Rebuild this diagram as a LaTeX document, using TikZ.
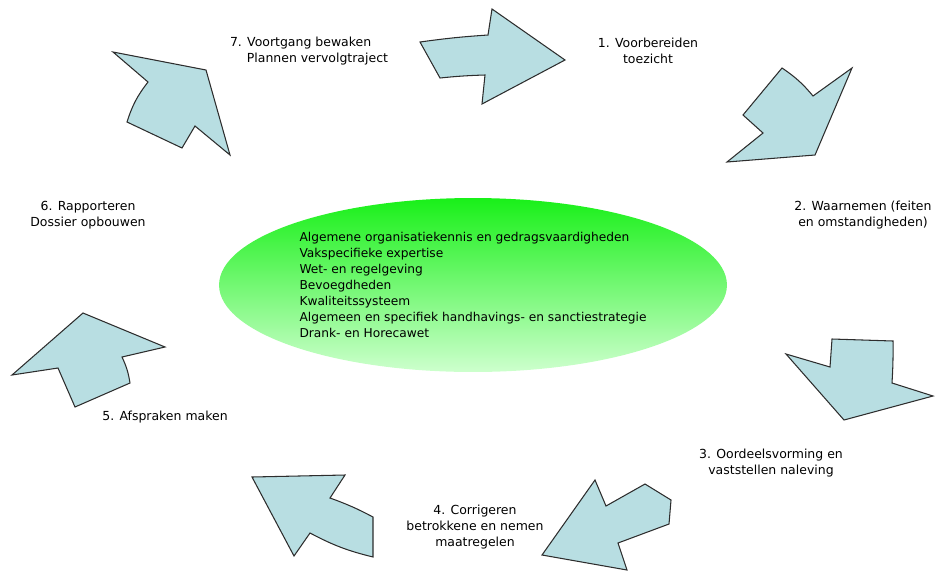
\documentclass[tikz,border=0pt]{standalone}
\usepackage{fontspec}
\setmainfont{DejaVu Sans}
\usetikzlibrary{shapes.geometric}
\definecolor{arrowfill}{RGB}{184,222,226}
\definecolor{arrowline}{RGB}{45,45,45}
\definecolor{ovaltop}{RGB}{25,240,25}
\definecolor{ovalbottom}{RGB}{205,255,205}
\tikzset{
	cyclearrow/.style = {fill = arrowfill, draw = arrowline, line width = 0.6pt},
	steplabel/.style = {align = center, inner sep = 0pt, font = \fontsize{7.1}{9.07}\selectfont},
}

\begin{document}
\begin{tikzpicture}[x = 0.02cm, y = -0.02cm]
		\useasboundingbox (0,0) rectangle (935,572);
		% The oval in the middle
		\node[ellipse, top color = ovaltop, bottom color = ovalbottom, minimum width = 10.16cm, minimum height = 3.48cm,
			inner sep = 0pt, align = left, font = \fontsize{6.95}{9.07}\selectfont] (kennis) at (473,285)
			{Algemene organisatiekennis en gedragsvaardigheden\\Vakspecifieke expertise\\Wet- en regelgeving\\Bevoegdheden\\Kwaliteitssysteem\\Algemeen en specifiek handhavings- en sanctiestrategie\\Drank- en Horecawet};
		% The arrows
		\draw[cyclearrow] (420,42) to[bend left = 2] (488,35) -- (492,9) -- (565,60) -- (482,104) -- (485,75) to[bend right = 2] (440,78) -- cycle;      % top
		\draw[cyclearrow] (813,96) -- (852,68) -- (815,155) -- (727,162) -- (763,133) -- (743,115) -- (782,68) to[bend left = 8] cycle;               % upper right
		\draw[cyclearrow] (786,354) -- (830,367) -- (832,339) -- (893,341) to[bend left = 2] (892,383) -- (933,396) -- (844,420) -- cycle;            % right
		\draw[cyclearrow] (542,555) -- (595,480) -- (606,506) -- (645,484) -- (671,500) -- (669,524) -- (618,543) -- (627,570) -- cycle;              % lower right
		\draw[cyclearrow] (252,477) -- (345,475) -- (330,498) to[bend left = 4] (373,517) -- (373,557) to[bend left = 7] (310,533) -- (294,556) -- cycle; % bottom left
		\draw[cyclearrow] (83,313) -- (165,347) -- (122,357) to[bend left = 8] (130,383) -- (75,407) -- (58,368) -- (12,375) -- cycle;                % left
		\draw[cyclearrow] (113,52) -- (206,70) -- (230,155) -- (195,126) -- (182,148) -- (127,122) to[bend left = 10] (148,82) -- cycle;              % upper left
		% Labels
		\node[steplabel] (stap1) at (648,51) {1. Voorbereiden\\toezicht};
		\node[steplabel] (stap2) at (863,215) {2. Waarnemen (feiten\\en omstandigheden)};
		\node[steplabel] (stap3) at (771,463) {3. Oordeelsvorming en\\vaststellen naleving};
		\node[steplabel] (stap4) at (475,527) {4. Corrigeren\\betrokkene en nemen\\maatregelen};
		\node[steplabel] (stap5) at (165,417) {5. Afspraken maken};
		\node[steplabel] (stap6) at (88,215) {6. Rapporteren\\Dossier opbouwen};
		\node[steplabel, align = left] (stap7) at (309,51) {7. Voortgang bewaken\\\hspace*{9.6pt}Plannen vervolgtraject};
	\end{tikzpicture}
\end{document}
